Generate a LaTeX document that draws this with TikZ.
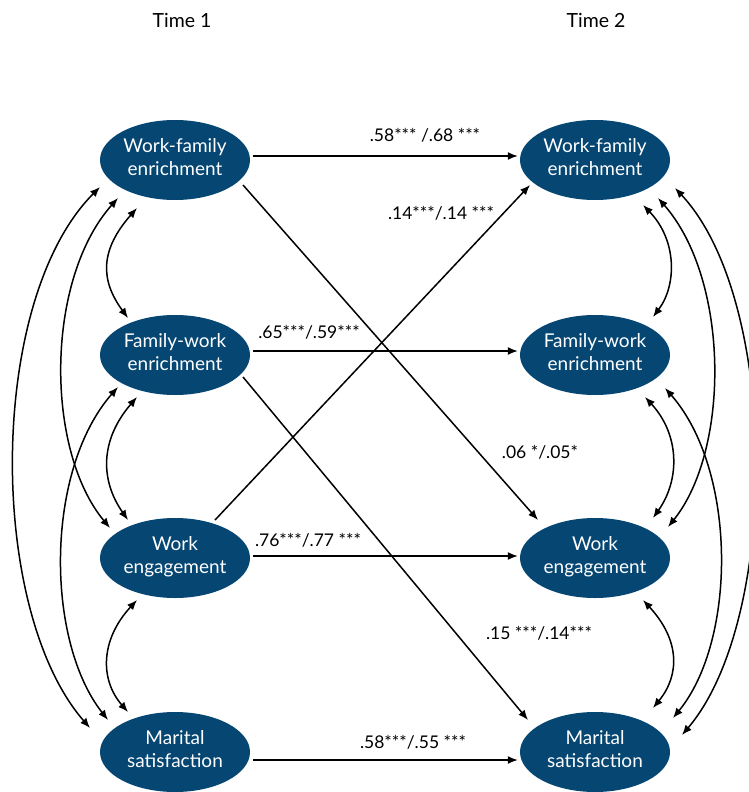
\documentclass[tikz,border=0pt]{standalone}
\usepackage{fontspec}
\setmainfont{Lato}
\usetikzlibrary{shapes.geometric,arrows.meta,calc}
\definecolor{nodeblue}{RGB}{5,70,115}
\begin{document}
\begin{tikzpicture}[x=1pt,y=-1pt,
  var/.style={ellipse, fill=nodeblue, text=white, minimum width=150pt, minimum height=80pt, inner sep=0pt, align=center, font=\fontsize{19}{23}\selectfont, execute at end node={\rule[-6pt]{0pt}{6pt}}},
  onepath/.style={line width=1.5pt, -{Latex[length=10pt,width=8pt]}},
  cov/.style={line width=1.5pt, {Latex[length=10pt,width=8pt]}-{Latex[length=10pt,width=8pt]}},
  lab/.style={font=\fontsize{17.5}{20}\selectfont, inner sep=0pt},
  ttl/.style={font=\fontsize{19.5}{22}\selectfont, inner sep=0pt},
]
\useasboundingbox (0,0) rectangle (749,792);

\node[ttl] (t1) at (182,20) {Time 1};
\node[ttl] (t2) at (596,20) {Time 2};

\node[var] (L1) at (175,160) {Work-family\\enrichment};
\node[var] (L2) at (175,355) {Family-work\\enrichment};
\node[var] (L3) at (175,558) {Work\\engagement};
\node[var] (L4) at (175,752) {Marital\\satisfaction};
\node[var] (R1) at (595,160) {Work-family\\enrichment};
\node[var] (R2) at (595,355) {Family-work\\enrichment};
\node[var] (R3) at (595,558) {Work\\engagement};
\node[var] (R4) at (595,752) {Marital\\satisfaction};

% stability paths
\draw[onepath] ($(L1.east)+(3,-4)$) -- ($(R1.west)+(-2,-4)$);
\draw[onepath] ($(L2.east)+(3,-4)$) -- ($(R2.west)+(-2,-4)$);
\draw[onepath] ($(L3.east)+(3,-2)$) -- ($(R3.west)+(-2,-2)$);
\draw[onepath] ($(L4.east)+(3,8)$) -- ($(R4.west)+(-2,8)$);
% cross-lagged paths
\draw[onepath] ($(L1)+(68,25)$) -- ($(R3)+(-57,-38)$);
\draw[onepath] ($(L2)+(68,22)$) -- ($(R4)+(-67,-32)$);
\draw[onepath] ($(L3)+(40,-38)$) -- ($(R1)+(-65,25)$);

% labels
\node[lab] (a1) at (425,135) {.58*** /.68 ***};
\node[lab] (a2) at (441,213) {.14***/.14 ***};
\node[lab] (a3) at (309,332) {.65***/.59***};
\node[lab] (a4) at (540,452) {.06 */.05*};
\node[lab] (a5) at (308,540) {.76***/.77 ***};
\node[lab] (a6) at (539,633) {.15 ***/.14***};
\node[lab] (a7) at (413,742) {.58***/.55 ***};

% left covariances
\draw[cov] ($(L1)+(-38,48)$) .. controls (100,250) and (100,280) .. ($(L2)+(-47,-37)$);
\draw[cov] ($(L2)+(-38,42)$) .. controls (100,440) and (100,480) .. ($(L3)+(-47,-38)$);
\draw[cov] ($(L3)+(-38,42)$) .. controls (100,640) and (100,680) .. ($(L4)+(-47,-40)$);
\draw[cov] ($(L1)+(-57,38)$) .. controls (45,280) and (45,450) .. ($(L3)+(-65,-30)$);
\draw[cov] ($(L2)+(-57,32)$) .. controls (45,470) and (45,640) .. ($(L4)+(-67,-32)$);
\draw[cov] ($(L1)+(-75,27)$) .. controls (-13,300) and (-13,610) .. ($(L4)+(-85,-24)$);

% right covariances
\draw[cov] ($(R1)+(48,45)$) .. controls (677,240) and (677,285) .. ($(R2)+(58,-38)$);
\draw[cov] ($(R2)+(50,42)$) .. controls (680,435) and (680,480) .. ($(R3)+(58,-40)$);
\draw[cov] ($(R3)+(48,42)$) .. controls (680,640) and (680,675) .. ($(R4)+(58,-44)$);
\draw[cov] ($(R1)+(63,38)$) .. controls (730,280) and (730,450) .. ($(R3)+(73,-31)$);
\draw[cov] ($(R2)+(70,33)$) .. controls (737,470) and (737,640) .. ($(R4)+(78,-34)$);
\draw[cov] ($(R1)+(80,28)$) .. controls (780,300) and (780,620) .. ($(R4)+(87,-17)$);
\end{tikzpicture}
\end{document}
